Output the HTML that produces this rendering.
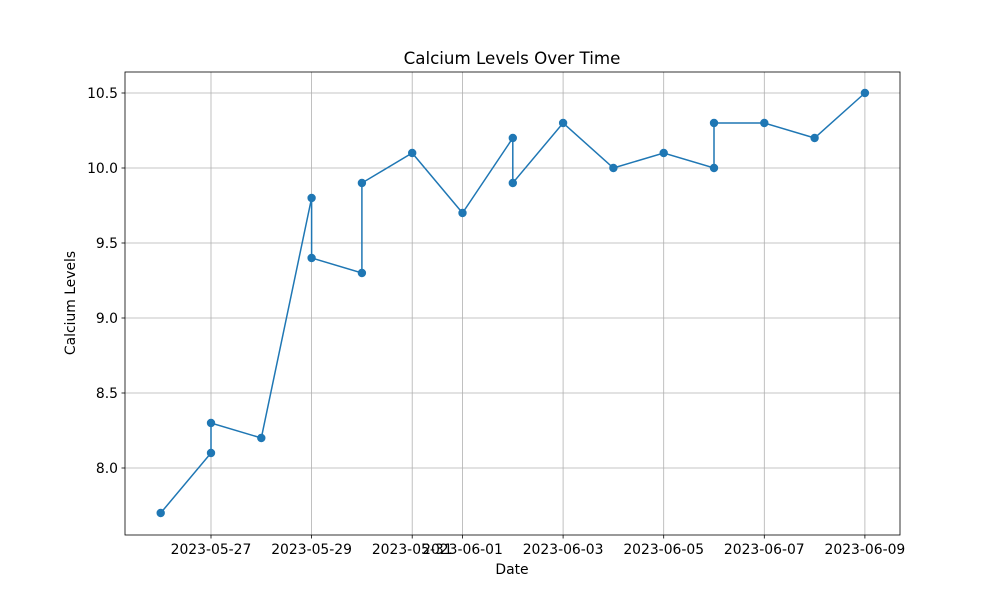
<!DOCTYPE html>
<html><head><meta charset="utf-8"><style>
body{margin:0;background:#fff;font-family:"DejaVu Sans","Liberation Sans",sans-serif}
</style></head><body>
<svg id="chart" width="1000" height="600" xmlns="http://www.w3.org/2000/svg" font-family="DejaVu Sans, Liberation Sans, sans-serif"></svg>
<script>
const dates=["2023-05-26","2023-05-27","2023-05-27","2023-05-28","2023-05-29","2023-05-29","2023-05-30","2023-05-30","2023-05-31","2023-06-01","2023-06-02","2023-06-02","2023-06-03","2023-06-04","2023-06-05","2023-06-06","2023-06-06","2023-06-07","2023-06-08","2023-06-09"];
const values=[7.7,8.1,8.3,8.2,9.8,9.4,9.3,9.9,10.1,9.7,10.2,9.9,10.3,10.0,10.1,10.0,10.3,10.3,10.2,10.5];
const xTicks=["2023-05-27","2023-05-29","2023-05-31","2023-06-01","2023-06-03","2023-06-05","2023-06-07","2023-06-09"];
const yTicks=[8.0,8.5,9.0,9.5,10.0,10.5];

const svg=document.getElementById('chart');
const NS="http://www.w3.org/2000/svg";
const L=125,R=900,T=72,B=535;
const day0=Date.UTC(2023,4,26);
function dayOf(s){const p=s.split('-');return (Date.UTC(+p[0],+p[1]-1,+p[2])-day0)/86400000;}
const x=s=>160.7+dayOf(s)*50.3;
const y=v=>93+(10.5-v)*150;
function el(tag,attrs,parent){const e=document.createElementNS(NS,tag);for(const k in attrs)e.setAttribute(k,attrs[k]);(parent||svg).appendChild(e);return e;}

const grid=el('g',{});


xTicks.forEach(t=>{const X=x(t);
 el('line',{x1:X,x2:X,y1:T,y2:B,stroke:'#b0b0b0','stroke-width':0.8},grid);
 el('line',{x1:X,x2:X,y1:B,y2:B+3.5,stroke:'#000','stroke-width':0.8});
 const tx=el('text',{x:X,y:B+19,'text-anchor':'middle','font-size':13.9,fill:'#000'});
 tx.textContent=t;
 
 
});
yTicks.forEach(v=>{const Y=y(v);
 el('line',{x1:L,x2:R,y1:Y,y2:Y,stroke:'#b0b0b0','stroke-width':0.8},grid);
 el('line',{x1:L-3.5,x2:L,y1:Y,y2:Y,stroke:'#000','stroke-width':0.8});
 const tx=el('text',{x:L-7,y:Y+5,'text-anchor':'end','font-size':13.9,fill:'#000'});
 tx.textContent=v.toFixed(1);
 
 
});
const pts=dates.map((d,i)=>x(d)+','+y(values[i])).join(' ');
const line=el('polyline',{points:pts,fill:'none',stroke:'#1f77b4','stroke-width':1.5});


dates.forEach((d,i)=>{
 const c=el('circle',{cx:x(d),cy:y(values[i]),r:4.2,fill:'#1f77b4'});
 
 
});
const frame=el('rect',{x:L,y:T,width:R-L,height:B-T,fill:'none',stroke:'#000','stroke-width':0.8});


const title=el('text',{x:512,y:64,'text-anchor':'middle','font-size':16.7,fill:'#000'});
title.textContent='Calcium Levels Over Time';


const xt=el('text',{x:512,y:574,'text-anchor':'middle','font-size':13.9,fill:'#000'});
xt.textContent='Date';


const yt=el('text',{x:75,y:303,'text-anchor':'middle','font-size':13.9,fill:'#000',transform:'rotate(-90 75 303)'});
yt.textContent='Calcium Levels';


</script>
</body></html>
